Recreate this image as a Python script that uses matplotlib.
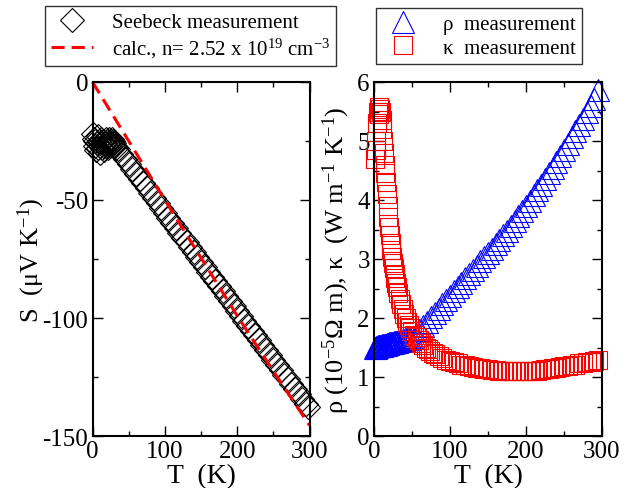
import matplotlib
matplotlib.use('Agg')
import matplotlib.pyplot as plt

plt.rcParams['font.family'] = ['Liberation Serif', 'DejaVu Serif']
plt.rcParams['mathtext.fontset'] = 'custom'
plt.rcParams['mathtext.rm'] = 'Liberation Serif'
plt.rcParams['mathtext.it'] = 'Liberation Serif:italic'
plt.rcParams['axes.unicode_minus'] = False

# Seebeck coefficient, measured (K, uV/K)
seebeck_T = [1, 2, 3, 4, 5, 6, 7, 8, 9, 10, 11, 12, 13, 14, 15, 16,
             17, 18, 19, 20, 21, 22, 23, 24, 25, 26, 27, 28, 29, 30, 31, 32,
             35, 40, 45, 50, 55, 60, 65, 70, 75, 80, 85, 90, 95, 100,
             105, 110, 115, 120, 125, 130, 135, 140, 145, 150, 155, 160,
             165, 170, 175, 180, 185, 190, 195, 200, 205, 210, 215, 220,
             225, 230, 235, 240, 245, 250, 255, 260, 265, 270, 275, 280,
             285, 290, 295, 298]
seebeck_S = [-22, -24, -27, -25, -29, -26, -23, -28, -25, -30, -26, -24,
             -28, -27, -25, -29, -26, -24, -27, -25, -28, -26, -24, -27,
             -25, -26, -24, -27, -25, -26, -27, -28,
             -28.5, -30.6, -32.7, -34.7, -36.8, -38.9, -41.0, -43.0, -45.1,
             -47.2, -49.3, -51.3, -53.4, -55.5, -57.6, -59.6, -61.7, -63.8,
             -65.9, -67.9, -70.0, -72.1, -74.2, -76.2, -78.3, -80.4, -82.5,
             -84.5, -86.6, -88.7, -90.8, -92.8, -94.9, -97.0, -99.1, -101.1,
             -103.2, -105.3, -107.4, -109.4, -111.5, -113.6, -115.7, -117.7,
             -119.8, -121.9, -124.0, -126.0, -128.1, -130.2, -132.3, -134.3,
             -136.4, -137.6]

# calculated curve for n = 2.52e19 cm^-3
calc_T = [0, 50, 100, 150, 200, 250, 300]
calc_S = [0, -25, -50, -74.5, -99, -122.5, -145.5]

# resistivity (1e-5 Ohm m)
rho_T = [1, 2, 3, 4, 5, 6, 7, 8, 9, 10, 11, 12, 13, 14, 15, 16, 17, 18,
         19, 20, 21, 22, 23, 24, 25, 26, 27, 28, 29, 30, 32, 34, 36, 38,
         40, 42, 44, 46, 48, 50, 55, 60, 65, 70, 75, 80, 85, 90, 95, 100,
         105, 110, 115, 120, 125, 130, 135, 140, 145, 150, 155, 160, 165,
         170, 175, 180, 185, 190, 195, 200, 205, 210, 215, 220, 225, 230,
         235, 240, 245, 250, 255, 260, 265, 270, 275, 280, 285, 290, 295]
rho_v = [1.50, 1.50, 1.51, 1.51, 1.52, 1.52, 1.52, 1.53, 1.53, 1.53, 1.54,
         1.54, 1.54, 1.55, 1.55, 1.55, 1.56, 1.56, 1.56, 1.57, 1.57, 1.57,
         1.58, 1.58, 1.58, 1.59, 1.59, 1.59, 1.60, 1.60, 1.61, 1.61, 1.62,
         1.62, 1.63, 1.64, 1.64, 1.65, 1.66, 1.67, 1.72, 1.79, 1.86, 1.93,
         2.01, 2.08, 2.16, 2.23, 2.31, 2.38, 2.45, 2.52, 2.60, 2.67, 2.74,
         2.81, 2.88, 2.96, 3.03, 3.10, 3.17, 3.25, 3.32, 3.40, 3.48, 3.56,
         3.64, 3.73, 3.81, 3.90, 3.99, 4.08, 4.17, 4.26, 4.35, 4.45, 4.55,
         4.65, 4.75, 4.85, 4.95, 5.06, 5.17, 5.27, 5.38, 5.49, 5.60, 5.72,
         5.86]

# thermal conductivity (W/m/K)
kappa_T = [1, 2, 3, 4, 5, 6, 7, 8, 9, 10, 11, 12, 13, 14, 15, 16, 17, 18,
           19, 20, 21, 22, 23, 24, 25, 26, 27, 28, 29, 30, 32, 34, 36, 38,
           40, 42, 44, 46, 48, 50, 53, 56, 59, 62, 65, 68, 71, 74, 77, 80,
           85, 90, 95, 100, 105, 110, 115, 120, 125, 130, 135, 140, 145,
           150, 155, 160, 165, 170, 175, 180, 185, 190, 195, 200, 205, 210,
           215, 220, 225, 230, 235, 240, 245, 250, 255, 260, 265, 270, 275,
           280, 285, 290, 295]
kappa_v = [4.70, 4.85, 5.00, 5.30, 5.50, 5.58, 5.45, 5.55, 5.50, 5.35,
           5.20, 5.00, 4.80, 4.60, 4.45, 4.30, 4.10, 3.90, 3.72, 3.55,
           3.40, 3.27, 3.15, 3.03, 2.93, 2.84, 2.75, 2.67, 2.60, 2.53,
           2.42, 2.32, 2.23, 2.15, 2.07, 2.00, 1.94, 1.88, 1.83, 1.78,
           1.72, 1.67, 1.62, 1.58, 1.54, 1.50, 1.47, 1.44, 1.41, 1.39,
           1.35, 1.32, 1.29, 1.27, 1.25, 1.23, 1.21, 1.20, 1.18, 1.17,
           1.16, 1.15, 1.14, 1.13, 1.12, 1.12, 1.11, 1.11, 1.10, 1.10,
           1.10, 1.10, 1.10, 1.10, 1.10, 1.11, 1.11, 1.12, 1.13, 1.14,
           1.15, 1.16, 1.17, 1.18, 1.19, 1.20, 1.21, 1.23, 1.24, 1.25,
           1.26, 1.27, 1.29]

W, H = 636, 489
fig = plt.figure(figsize=(W / 100, H / 100), dpi=100)
ax1 = fig.add_axes([92.5 / W, 1 - 437 / H, 217 / W, 354 / H])
ax2 = fig.add_axes([374 / W, 1 - 437 / H, 228 / W, 354 / H])

ax1.plot(seebeck_T, seebeck_S, linestyle='none', marker='D', ms=12,
         mfc='none', mec='black', mew=0.8, clip_on=False,
         label='Seebeck measurement')
ax1.plot(calc_T, calc_S, color='red', lw=2.2, dashes=(4.3, 2.3),
         clip_on=False, label='calc., n= 2.52 x 10$^{19}$ cm$^{-3}$')

ax2.plot(rho_T, rho_v, linestyle='none', marker='^', ms=16,
         mfc='none', mec='blue', mew=0.8, clip_on=False,
         label='ρ  measurement')
ax2.plot(kappa_T, kappa_v, linestyle='none', marker='s', ms=12.5,
         mfc='none', mec='red', mew=0.8, clip_on=False,
         label='κ  measurement')

ax1.set_xlim(0, 300)
ax1.set_ylim(-150, 0)
ax1.set_xticks([0, 100, 200, 300])
ax1.set_xticks([50, 150, 250], minor=True)
ax1.set_yticks([-150, -100, -50, 0])
ax1.set_yticks([-125, -75, -25], minor=True)
ax1.set_xlabel('T  (K)', fontsize=20, labelpad=1)
ax1.set_ylabel('S  (μV K$^{-1}$)', fontsize=19, labelpad=-3)

ax2.set_xlim(0, 300)
ax2.set_ylim(0, 6)
ax2.set_xticks([0, 100, 200, 300])
ax2.set_xticks([50, 150, 250], minor=True)
ax2.set_yticks([0, 1, 2, 3, 4, 5, 6])
ax2.set_yticks([0.5, 1.5, 2.5, 3.5, 4.5, 5.5], minor=True)
ax2.set_xlabel('T  (K)', fontsize=20, labelpad=1)
ax2.set_ylabel('ρ (10$^{-5}$Ω m), κ  (W m$^{-1}$ K$^{-1}$)',
               fontsize=19, labelpad=4)

for ax in (ax1, ax2):
    for s in ax.spines.values():
        s.set_linewidth(1.5)
    ax.tick_params(which='both', direction='in', top=True, right=True,
                   width=1.0, labelsize=18, pad=3)
    ax.tick_params(which='major', length=7)
    ax.tick_params(which='minor', length=3.5)

leg_kw = dict(loc='upper left', frameon=True, fancybox=False,
              edgecolor='black', fontsize=15, handlelength=2.0,
              borderpad=0.3, labelspacing=0.2, handletextpad=0.9,
              borderaxespad=0)
l1 = ax1.legend(bbox_to_anchor=(45 / W, 1 - 7 / H),
                bbox_transform=fig.transFigure, **leg_kw)
l2 = ax2.legend(bbox_to_anchor=(376 / W, 1 - 9 / H),
                bbox_transform=fig.transFigure, **leg_kw)
for lg in (l1, l2):
    lg.get_frame().set_linewidth(1.0)

fig.savefig('out.png', dpi=100)
